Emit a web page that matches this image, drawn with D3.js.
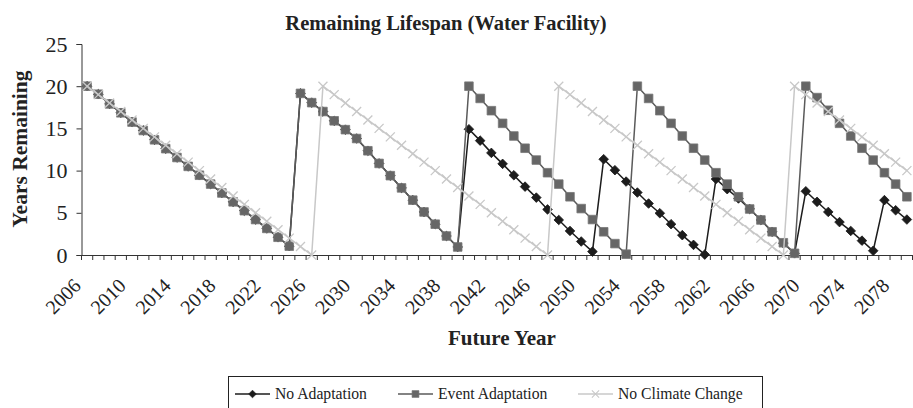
<!DOCTYPE html>
<html>
<head>
<meta charset="utf-8">
<script src="https://cdn.jsdelivr.net/npm/d3@7/dist/d3.min.js"></script>
<style>
  body { margin: 0; background: #fff; }
  svg { display: block; }
  text { font-family: "Liberation Serif", "Times New Roman", serif; fill: #222; }
</style>
</head>
<body>
<div class="chartView"></div>
<script>
/*
    --- chart data
*/
var years = [2006, 2007, 2008, 2009, 2010, 2011, 2012, 2013, 2014, 2015,
  2016, 2017, 2018, 2019, 2020, 2021, 2022, 2023, 2024, 2025,
  2026, 2027, 2028, 2029, 2030, 2031, 2032, 2033, 2034, 2035,
  2036, 2037, 2038, 2039, 2040, 2041, 2042, 2043, 2044, 2045,
  2046, 2047, 2048, 2049, 2050, 2051, 2052, 2053, 2054, 2055,
  2056, 2057, 2058, 2059, 2060, 2061, 2062, 2063, 2064, 2065,
  2066, 2067, 2068, 2069, 2070, 2071, 2072, 2073, 2074, 2075,
  2076, 2077, 2078, 2079];

var noAdaptation = [20, 19.05, 17.9, 16.85, 15.75, 14.75, 13.65, 12.6, 11.55, 10.5,
  9.45, 8.4, 7.35, 6.3, 5.25, 4.2, 3.15, 2.1, 1.05, 19.15,
  18.05, 17, 15.9, 14.85, 13.8, 12.35, 10.85, 9.4, 7.95, 6.5,
  5.1, 3.65, 2.25, 0.95, 14.9, 13.55, 12.1, 10.8, 9.45, 8.1,
  6.8, 5.4, 4.15, 2.85, 1.6, 0.4, 11.35, 10.05, 8.7, 7.4,
  6.1, 4.95, 3.65, 2.35, 1.2, 0.05, 9, 7.8, 6.7, 5.45,
  4.15, 2.75, 1.4, 0.2, 7.55, 6.3, 5.1, 3.9, 2.85, 1.7,
  0.5, 6.5, 5.3, 4.2];

var eventAdaptation = [20, 19.05, 17.9, 16.85, 15.75, 14.75, 13.65, 12.6, 11.55, 10.5,
  9.45, 8.4, 7.35, 6.3, 5.25, 4.2, 3.15, 2.1, 1.05, 19.15,
  18.05, 17, 15.9, 14.85, 13.8, 12.35, 10.85, 9.4, 7.95, 6.5,
  5.1, 3.65, 2.25, 0.95, 20, 18.55, 17.1, 15.6, 14.1, 12.65,
  11.25, 9.75, 8.4, 6.9, 5.5, 4.2, 2.75, 1.35, 0.1, 20,
  18.55, 17.1, 15.6, 14.1, 12.65, 11.25, 9.75, 8.4, 6.9, 5.45,
  4.15, 2.75, 1.45, 0.2, 20, 18.65, 17.15, 15.6, 14.1, 12.65,
  11.25, 9.75, 8.4, 6.9];

var noClimateChange = [20, 19, 18, 17, 16, 15, 14, 13, 12, 11,
  10, 9, 8, 7, 6, 5, 4, 3, 2, 1,
  0, 20, 19, 18, 17, 16, 15, 14, 13, 12,
  11, 10, 9, 8, 7, 6, 5, 4, 3, 2,
  1, 0, 20, 19, 18, 17, 16, 15, 14, 13,
  12, 11, 10, 9, 8, 7, 6, 5, 4, 3,
  2, 1, 0, 20, 19, 18, 17, 16, 15, 14,
  13, 12, 11, 10];

var yTicks = [0, 5, 10, 15, 20, 25];
var xTickYears = [2006, 2010, 2014, 2018, 2022, 2026, 2030, 2034, 2038, 2042,
  2046, 2050, 2054, 2058, 2062, 2066, 2070, 2074, 2078];

var seriesNames = ['No Adaptation', 'Event Adaptation', 'No Climate Change'];

/*
    --- drawing
*/
var width = 913, height = 408;
//plot box (note: "top" is reserved on window, so prefixed names)
var plotLeft = 81.5, plotRight = 912.5, plotTop = 44, plotBottom = 255;

var svg = d3.select('.chartView').append('svg')
  .attr('width', width)
  .attr('height', height);

var x = d3.scaleBand().domain(years).range([plotLeft, plotRight]);
var bw = x.bandwidth();
var y = d3.scaleLinear().domain([0, 25]).range([plotBottom, plotTop]);

//center of a year's category
var cx = function(yr) { return x(yr) + bw / 2; };

//title
svg.append('text')
  .attr('x', 446).attr('y', 30)
  .attr('text-anchor', 'middle')
  .style('font-size', '20.5px').style('font-weight', 'bold')
  .text('Remaining Lifespan (Water Facility)');

//y axis
var yAxis = svg.append('g')
  .attr('transform', 'translate(' + plotLeft + ',0)')
  .call(d3.axisLeft(y).tickValues(yTicks).tickSize(5).tickPadding(9));
yAxis.select('.domain').attr('stroke', '#333');
yAxis.selectAll('.tick line').attr('stroke', '#333');
yAxis.selectAll('.tick text')
  .style('font-size', '22px')
  .style('font-family', '"Liberation Serif", serif')
  .attr('fill', '#222');

svg.append('text')
  .attr('transform', 'translate(27,149) rotate(-90)')
  .attr('text-anchor', 'middle')
  .style('font-size', '21.5px').style('font-weight', 'bold')
  .text('Years Remaining');

//x axis: ticks sit on the category boundaries
var xAxis = svg.append('g')
  .attr('transform', 'translate(0,' + plotBottom + ')')
  .call(d3.axisBottom(x).tickSize(5).tickFormat(''));
xAxis.selectAll('.tick').attr('transform', function(d) { return 'translate(' + x(d) + ',0)'; });
xAxis.append('line').attr('x1', plotRight).attr('x2', plotRight).attr('y2', 5).attr('stroke', '#333');
xAxis.select('.domain').attr('stroke', '#333').attr('d', 'M' + plotLeft + ',0.5H' + plotRight);
xAxis.selectAll('.tick line').attr('stroke', '#333');

svg.append('g').selectAll('text')
  .data(xTickYears)
  .enter()
  .append('text')
  .attr('text-anchor', 'end')
  .attr('transform', function(d) {
    return 'translate(' + (cx(d) - 5) + ',' + (plotBottom + 32) + ') rotate(-45)';
  })
  .style('font-size', '20px')
  .text(function(d) { return d; });

svg.append('text')
  .attr('x', 502).attr('y', 345)
  .attr('text-anchor', 'middle')
  .style('font-size', '21px').style('font-weight', 'bold')
  .text('Future Year');

//series, in drawing order (last on top)
var series = [
  { name: seriesNames[0], values: noAdaptation, color: '#1c1c1c', fill: '#1c1c1c', marker: 'diamond', lw: 1.5 },
  { name: seriesNames[1], values: eventAdaptation, color: '#5a5a5a', fill: '#666', marker: 'square', lw: 1.5 },
  { name: seriesNames[2], values: noClimateChange, color: '#c8c8c8', fill: 'none', marker: 'cross', lw: 1.5 }
];

var markerPath = {
  diamond: 'M0,-4.8L4.8,0L0,4.8L-4.8,0Z',
  square: 'M-4.3,-4.3H4.3V4.3H-4.3Z',
  cross: 'M-4.5,-4.5L4.5,4.5M-4.5,4.5L4.5,-4.5'
};

var line = d3.line()
  .x(function(d) { return cx(d.year); })
  .y(function(d) { return y(d.v); });

series.forEach(function(s) {
  var pts = years.map(function(yr, i) { return { year: yr, v: s.values[i] }; });
  var g = svg.append('g');
  g.append('path')
    .attr('d', line(pts))
    .attr('fill', 'none')
    .attr('stroke', s.color)
    .attr('stroke-width', s.lw);
  g.selectAll('path.mk')
    .data(pts)
    .enter()
    .append('path')
    .attr('class', 'mk')
    .attr('transform', function(d) { return 'translate(' + cx(d.year) + ',' + y(d.v) + ')'; })
    .attr('d', markerPath[s.marker])
    .attr('fill', s.fill)
    .attr('stroke', s.marker === 'square' ? '#777' : s.color)
    .attr('stroke-width', s.marker === 'cross' ? 1.3 : 0.8);
});

//legend
var legend = svg.append('g');
legend.append('rect')
  .attr('x', 228.5).attr('y', 376.5)
  .attr('width', 534).attr('height', 45)
  .attr('fill', 'none').attr('stroke', '#222');

var legendX = [235, 398, 578];
series.forEach(function(s, i) {
  var lg = legend.append('g').attr('transform', 'translate(' + legendX[i] + ',394)');
  lg.append('line').attr('x1', 0).attr('x2', 35)
    .attr('stroke', s.color).attr('stroke-width', s.lw);
  lg.append('path')
    .attr('transform', 'translate(17.5,0) scale(0.8)')
    .attr('d', markerPath[s.marker])
    .attr('fill', s.fill)
    .attr('stroke', s.marker === 'square' ? '#777' : s.color)
    .attr('stroke-width', s.marker === 'cross' ? 1.3 : 0.8);
  lg.append('text')
    .attr('x', 40).attr('y', 5)
    .style('font-size', '15.7px')
    .text(s.name);
});
</script>
</body>
</html>
